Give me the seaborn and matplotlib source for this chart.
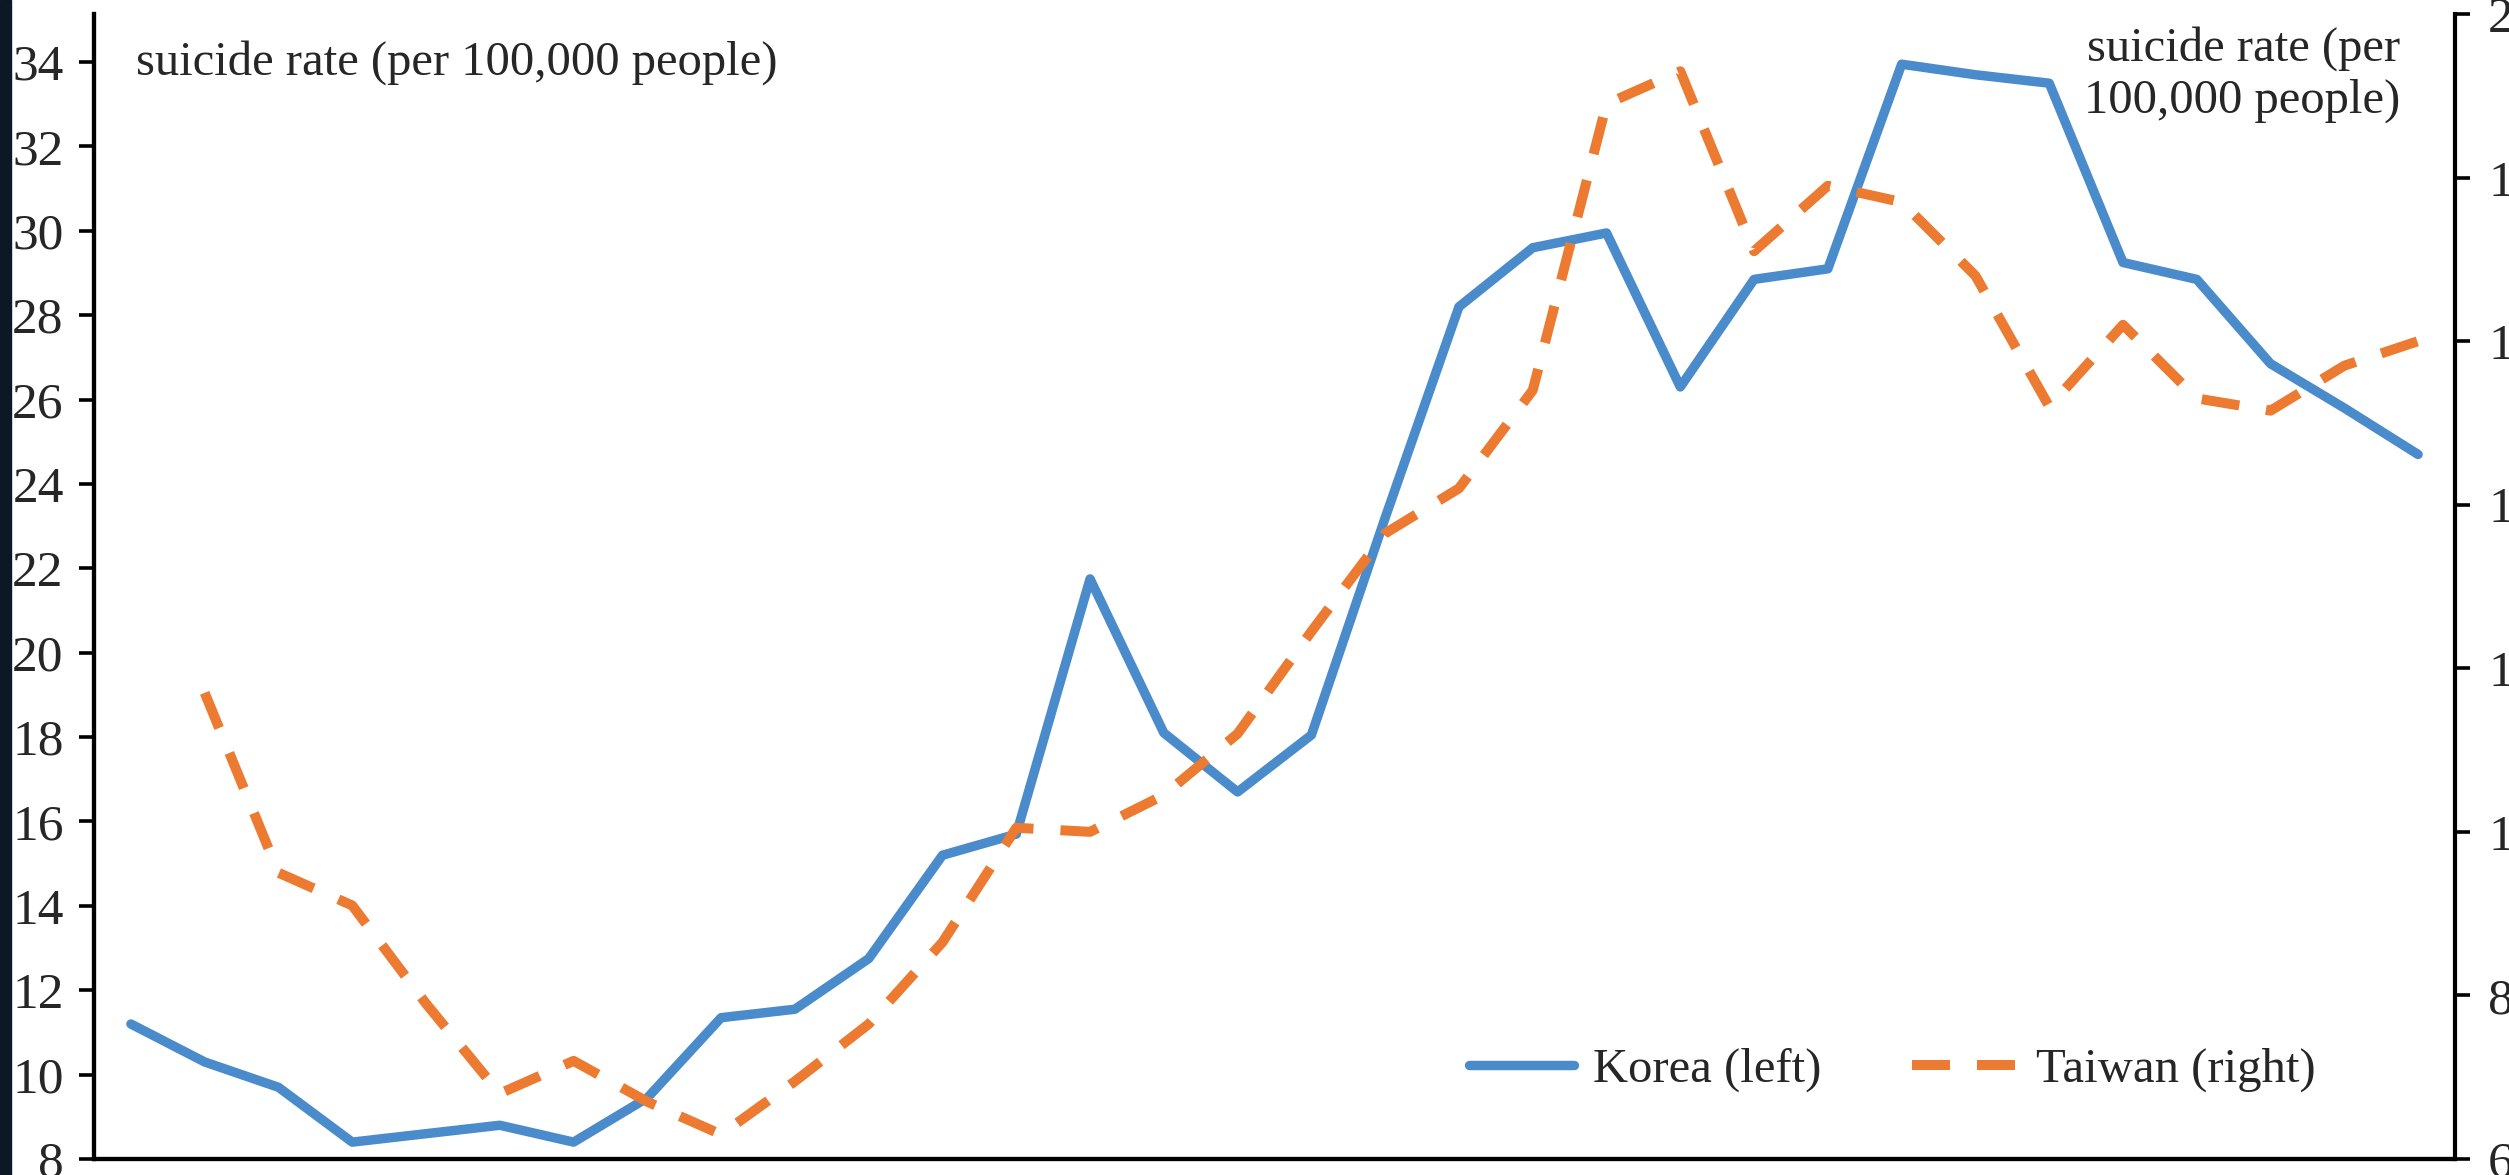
import numpy as np
import pandas as pd
import matplotlib
matplotlib.use("Agg")
import matplotlib.pyplot as plt
import seaborn as sns
from matplotlib.patches import Rectangle

# suicide rate per 100,000 people
years = list(range(1985, 2017))
korea = [11.2, 10.3, 9.7, 8.4, 8.6, 8.8, 8.4, 9.45, 11.35, 11.55,
         12.75, 15.2, 15.7, 21.75, 18.1, 16.7, 18.05, 23.2, 28.2, 29.6,
         29.95, 26.3, 28.85, 29.1, 33.95, 33.7, 33.5, 29.25, 28.85, 26.85,
         25.8, 24.7]
taiwan = [np.nan, 11.7, 9.5, 9.1, 7.9, 6.8, 7.2, 6.7, 6.3, 6.95,
          7.65, 8.65, 10.05, 10.0, 10.45, 11.2, 12.45, 13.65, 14.2, 15.4,
          18.9, 19.3, 17.1, 17.9, 17.7, 16.8, 15.2, 16.2, 15.3, 15.15,
          15.7, 16.0]
left_ticks = list(range(8, 35, 2))
right_ticks = list(range(6, 21, 2))

blue = '#4a8ccb'
orange = '#ec7a30'

df = pd.DataFrame({'year': years, 'korea': korea, 'taiwan': taiwan})

sns.set_style("white")
plt.rcParams['font.family'] = ['Liberation Serif', 'DejaVu Serif']

W, H = 2509, 1175
fig = plt.figure(figsize=(W / 100, H / 100), dpi=100)
ax = fig.add_axes([94 / W, 16 / H, (2455 - 94) / W, 1145 / H])
ax2 = ax.twinx()

sns.lineplot(data=df, x='year', y='korea', ax=ax, color=blue, linewidth=6.8,
             label='Korea (left)', legend=False)
sns.lineplot(data=df.dropna(), x='year', y='taiwan', ax=ax2, color=orange, linewidth=7.2,
             linestyle=(0, (3.8, 2.7)), label='Taiwan (right)', legend=False)

ax.set_xlim(1984.5, 2016.5)
ax.set_ylim(8, 35.14)
ax2.set_ylim(6, 20)
ax.set_xticks(np.arange(1984.5, 2017, 1))
ax.set_yticks(left_ticks)
ax2.set_yticks(right_ticks)
ax.set_xlabel('')
ax.set_ylabel('')
ax2.set_ylabel('')

for a in (ax, ax2):
    a.spines['top'].set_visible(False)
    for s in ('left', 'right', 'bottom'):
        a.spines[s].set_color('black')
        a.spines[s].set_linewidth(3)
ax.spines['right'].set_visible(False)

ax.tick_params(axis='y', direction='out', length=10.8, width=2.6, pad=11, labelsize=37, color='black')
ax.tick_params(axis='x', direction='out', length=14, width=2.6, labelbottom=False, color='black')
ax2.tick_params(axis='y', direction='out', length=10.8, width=2.6, pad=13, labelsize=37, color='black')

handles = [ax.lines[0], ax2.lines[0]]
fig.legend(handles, ['Korea (left)', 'Taiwan (right)'], loc='center left',
           bbox_to_anchor=(1469 / W, 1 - 1070 / H), ncol=2, frameon=False, fontsize=35,
           handlelength=2.16, handletextpad=0.4, columnspacing=1.85, borderpad=0, borderaxespad=0)

fig.text(136 / W, 1 - 75 / H, 'suicide rate (per 100,000 people)', fontsize=35,
         ha='left', va='baseline')
# right-hand axis unit, two lines
fig.text(2400 / W, 1 - 61 / H, 'suicide rate (per', fontsize=35, ha='right', va='baseline')
fig.text(2400 / W, 1 - 113 / H, '100,000 people)', fontsize=35, ha='right', va='baseline')

# dark strip along the left edge of the screenshot
fig.add_artist(Rectangle((0, 0), 11 / W, 1, transform=fig.transFigure,
                         color='#0c1824', zorder=10))

fig.savefig('out.png', dpi=100)
